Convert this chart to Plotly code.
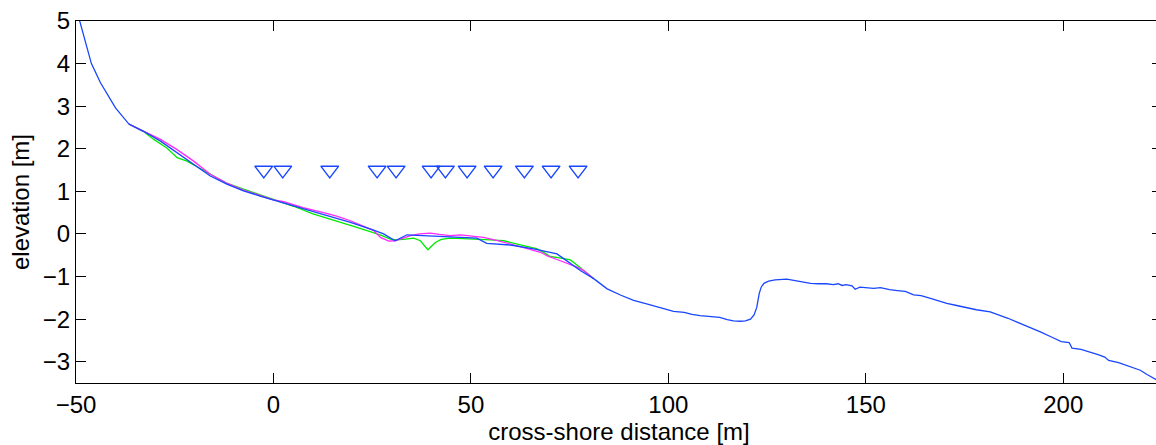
import plotly.graph_objects as go

# Surveyed cross-shore profile (main survey, blue)
profile_x = [-49.3, -47.6, -46.1, -43.8, -40.0, -36.6, -32.9, -28.6, -24.4, -20.2,
             -16.0, -11.8, -7.6, -3.4, 0.0, 4.2, 11.1, 19.5, 25.0, 27.9,
             30.8, 33.8, 40.6, 46.0, 49.0, 51.5, 54.0, 60.0, 65.9, 71.8,
             73.5, 77.7, 81.1, 84.5, 88.0, 91.2, 94.5, 97.9, 101.3, 104.0,
             106.0, 108.0, 111.0, 113.0, 114.9, 116.5, 118.2, 119.5, 120.8, 121.7,
             122.4, 123.0, 123.5, 124.2, 125.4, 127.0, 130.0, 132.0, 134.0, 136.0,
             138.0, 140.0, 141.8, 143.0, 144.0, 145.0, 146.5, 147.3, 148.5, 150.0,
             152.0, 153.7, 156.0, 158.0, 160.0, 162.1, 164.0, 167.0, 170.5, 173.0,
             175.6, 178.0, 181.5, 184.0, 186.0, 188.3, 191.0, 194.2, 197.0, 199.5,
             201.5, 202.2, 204.5, 206.8, 209.0, 210.5, 211.5, 214.0, 216.0, 217.8,
             219.5, 221.2, 223.0, 225.0]
profile_z = [5.08, 4.48, 4.00, 3.55, 2.96, 2.58, 2.41, 2.18, 1.91, 1.63,
             1.36, 1.17, 1.01, 0.89, 0.80, 0.68, 0.50, 0.27, 0.10, 0.00,
             -0.16, -0.02, -0.05, -0.08, -0.10, -0.10, -0.22, -0.26, -0.35, -0.47,
             -0.58, -0.86, -1.05, -1.29, -1.44, -1.56, -1.64, -1.73, -1.82, -1.84,
             -1.89, -1.92, -1.95, -1.96, -2.01, -2.04, -2.05, -2.04, -2.00, -1.90,
             -1.72, -1.40, -1.25, -1.16, -1.11, -1.08, -1.06, -1.09, -1.13, -1.16,
             -1.17, -1.17, -1.19, -1.17, -1.21, -1.19, -1.22, -1.30, -1.25, -1.27,
             -1.28, -1.26, -1.31, -1.33, -1.35, -1.43, -1.45, -1.53, -1.63, -1.68,
             -1.74, -1.78, -1.83, -1.91, -1.98, -2.07, -2.17, -2.30, -2.42, -2.53,
             -2.55, -2.68, -2.71, -2.77, -2.84, -2.89, -2.97, -3.02, -3.08, -3.14,
             -3.20, -3.30, -3.40, -3.50]

# Second survey (green), nearshore section only
survey_g_x = [-36.6, -33.0, -30.3, -27.0, -24.4, -21.9, -19.0, -16.0, -12.0, -7.6,
              -3.5, 0.0, 5.1, 10.0, 15.3, 19.5, 23.7, 27.0, 29.6, 31.3,
              33.5, 35.5, 37.2, 38.3, 39.1, 39.9, 41.0, 42.5, 44.8, 48.0,
              51.5, 55.0, 58.3, 62.0, 66.8, 68.5, 70.1, 72.5, 75.2, 77.0,
              78.6, 81.1]
survey_g_z = [2.58, 2.41, 2.22, 2.02, 1.79, 1.71, 1.56, 1.40, 1.20, 1.05,
              0.92, 0.80, 0.65, 0.47, 0.31, 0.20, 0.08, -0.02, -0.12, -0.14,
              -0.12, -0.10, -0.16, -0.28, -0.37, -0.30, -0.20, -0.13, -0.10, -0.11,
              -0.12, -0.14, -0.16, -0.24, -0.35, -0.44, -0.53, -0.56, -0.61, -0.74,
              -0.86, -1.05]

# Third survey (magenta), nearshore section only
survey_m_x = [-36.6, -33.0, -28.6, -24.4, -20.2, -16.0, -12.0, -7.6, -3.5, 0.0,
              2.6, 7.5, 12.7, 16.0, 19.5, 22.5, 25.4, 27.1, 29.2, 30.8,
              32.5, 34.7, 37.0, 39.7, 42.0, 44.8, 47.3, 50.0, 53.2, 57.0,
              61.7, 64.5, 67.6, 69.5, 71.8, 74.5, 76.9, 78.6, 81.1]
survey_m_z = [2.58, 2.42, 2.22, 1.98, 1.71, 1.40, 1.20, 1.03, 0.90, 0.80,
              0.76, 0.62, 0.50, 0.42, 0.31, 0.20, 0.08, -0.08, -0.17, -0.16,
              -0.10, -0.04, 0.00, 0.02, -0.01, -0.04, -0.02, -0.05, -0.08, -0.16,
              -0.27, -0.35, -0.43, -0.52, -0.60, -0.69, -0.78, -0.86, -1.05]

# Instrument locations along the transect
sensor_x = [-2.46, 2.35, 14.25, 26.25, 31.06, 39.92, 43.54, 49.04, 55.62, 63.54, 70.3, 77.14]
sensor_z = [1.5] * len(sensor_x)

x_ticks = [-50, 0, 50, 100, 150, 200]
y_ticks = [-3, -2, -1, 0, 1, 2, 3, 4, 5]

BLUE = "rgb(25,70,255)"
GREEN = "rgb(0,235,0)"
MAGENTA = "rgb(255,40,255)"
FONT = "Liberation Sans, Arial, sans-serif"

fig = go.Figure()
fig.add_trace(go.Scatter(x=survey_g_x, y=survey_g_z, mode="lines",
                         line=dict(color=GREEN, width=1.3)))
fig.add_trace(go.Scatter(x=survey_m_x, y=survey_m_z, mode="lines",
                         line=dict(color=MAGENTA, width=1.3)))
fig.add_trace(go.Scatter(x=profile_x, y=profile_z, mode="lines",
                         line=dict(color=BLUE, width=1.3)))
fig.add_trace(go.Scatter(x=sensor_x, y=sensor_z, mode="markers",
                         marker=dict(symbol="triangle-down-open", size=15.5,
                                     color=BLUE, line=dict(width=1.4, color=BLUE))))

axis_common = dict(
    showline=True, linecolor="black", linewidth=1, mirror="ticks",
    ticks="inside", ticklen=10, tickwidth=1, tickcolor="black",
    showgrid=False, zeroline=False,
    tickfont=dict(family=FONT, size=24, color="black"),
)

fig.update_layout(
    width=1170, height=445,
    margin=dict(l=76, r=7, t=19, b=62),
    paper_bgcolor="white", plot_bgcolor="white",
    showlegend=False,
    xaxis=dict(range=[-50, 225], tickvals=x_ticks,
               title=dict(text="cross-shore distance [m]", standoff=1,
                          font=dict(family=FONT, size=24, color="black")),
               **axis_common),
    yaxis=dict(range=[-3.5, 5], tickvals=y_ticks,
               title=dict(text="elevation [m]", standoff=6,
                          font=dict(family=FONT, size=24, color="black")),
               **axis_common),
)

fig.write_html("out.html",
               post_script="document.documentElement.style.overflow='hidden';"
                           "document.body.style.overflow='hidden';")
